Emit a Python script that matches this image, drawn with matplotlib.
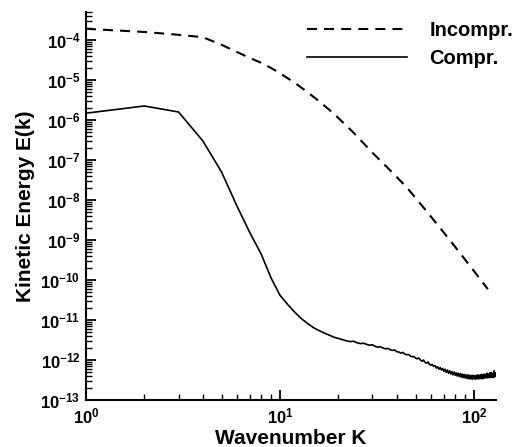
import numpy as np
import matplotlib
matplotlib.use('Agg')
import matplotlib.pyplot as plt
from matplotlib.ticker import LogLocator, FuncFormatter, NullFormatter

plt.rcParams['font.family'] = ['Liberation Sans', 'DejaVu Sans']
plt.rcParams['font.weight'] = 'bold'
plt.rcParams['mathtext.fontset'] = 'custom'
plt.rcParams['mathtext.rm'] = 'Liberation Sans:bold'
plt.rcParams['mathtext.it'] = 'Liberation Sans:bold'
plt.rcParams['mathtext.bf'] = 'Liberation Sans:bold'

# incompressible spectrum: wavenumber and log10 of E(k)
k_incomp = [1, 2, 3, 4, 5, 6, 7, 8, 9, 10, 12, 14, 16, 18, 20, 24, 30, 36, 45, 55, 67, 80, 98, 118]
log_e_incomp = [-3.72, -3.80, -3.87, -3.93, -4.12, -4.30, -4.45, -4.57, -4.70, -4.83,
                -5.08, -5.32, -5.54, -5.75, -5.95, -6.32, -6.82, -7.20, -7.68, -8.19,
                -8.70, -9.17, -9.72, -10.23]

# compressible spectrum: k = 1..130, log10 of E(k)
k_comp = list(range(1, 131))
log_e_comp = [
    -5.83, -5.65, -5.80, -6.52, -7.30, -8.15, -8.82, -9.35, -9.95, -10.38,
    -10.62, -10.82, -10.98, -11.10, -11.20, -11.27, -11.33, -11.38, -11.43, -11.46,
    -11.49, -11.52, -11.54, -11.53, -11.57, -11.59, -11.58, -11.61, -11.63, -11.62,
    -11.66, -11.68, -11.67, -11.70, -11.72, -11.71, -11.74, -11.76, -11.75, -11.79,
    -11.80, -11.83, -11.81, -11.85, -11.87, -11.86, -11.90, -11.92, -11.91, -11.95,
    -11.97, -11.95, -12.00, -12.03, -12.00, -12.06, -12.08, -12.05, -12.11, -12.13,
    -12.11, -12.16, -12.14, -12.20, -12.17, -12.23, -12.19, -12.25, -12.21, -12.28,
    -12.23, -12.31, -12.25, -12.33, -12.27, -12.35, -12.29, -12.37, -12.30, -12.38,
    -12.32, -12.40, -12.33, -12.41, -12.34, -12.43, -12.35, -12.44, -12.36, -12.45,
    -12.37, -12.46, -12.37, -12.47, -12.38, -12.47, -12.39, -12.48, -12.38, -12.47,
    -12.39, -12.48, -12.38, -12.47, -12.37, -12.47, -12.38, -12.46, -12.36, -12.47,
    -12.37, -12.46, -12.35, -12.45, -12.36, -12.44, -12.33, -12.45, -12.35, -12.43,
    -12.32, -12.44, -12.31, -12.43, -12.34, -12.44, -12.27, -12.42, -12.32, -12.40,
]

e_incomp = 10.0 ** np.array(log_e_incomp)
e_comp = 10.0 ** np.array(log_e_comp)

fig = plt.figure(figsize=(5.13, 4.47), dpi=100)
ax = fig.add_axes([0.1676, 0.1051, 0.7993, 0.8681])

ax.plot(k_incomp, e_incomp, color='black', lw=1.5, dashes=(4.8, 3.4), label='Incompr.')
ax.plot(k_comp, e_comp, color='black', lw=1.2, label='Compr.')

ax.set_xscale('log')
ax.set_yscale('log')
ax.set_xlim(1, 130)
ax.set_ylim(1e-13, 10 ** -3.3)

for s in ['top', 'right']:
    ax.spines[s].set_visible(False)
for s in ['left', 'bottom']:
    ax.spines[s].set_linewidth(1.5)

def fmt(v, pos):
    e = int(round(np.log10(v)))
    return r'$\mathbf{10^{%d}}$' % e

ax.xaxis.set_major_locator(LogLocator(base=10, numticks=10))
ax.yaxis.set_major_locator(LogLocator(base=10, numticks=20))
ax.xaxis.set_minor_locator(LogLocator(base=10, subs=np.arange(2, 10), numticks=20))
ax.yaxis.set_minor_locator(LogLocator(base=10, subs=np.arange(2, 10), numticks=30))
ax.xaxis.set_major_formatter(FuncFormatter(fmt))
ax.yaxis.set_major_formatter(FuncFormatter(fmt))
ax.xaxis.set_minor_formatter(NullFormatter())
ax.yaxis.set_minor_formatter(NullFormatter())
ax.tick_params(which='major', direction='in', length=7, width=1.3, labelsize=12)
ax.tick_params(which='minor', direction='in', length=4, width=1.0)
ax.tick_params(axis='x', pad=5)
ax.tick_params(axis='y', pad=4)

fig.text(0.567, 3.0 / 447, 'Wavenumber K', fontsize=15, fontweight='bold',
         ha='center', va='baseline')
ax.set_ylabel('Kinetic Energy E(k)', fontsize=15, fontweight='bold', labelpad=4)

leg = fig.legend(loc='upper right', bbox_to_anchor=(1.036, 0.994), frameon=False,
                 prop={'size': 14.5, 'weight': 'bold'}, handlelength=5.0,
                 handletextpad=1.1, labelspacing=0.45)

plt.savefig('out.png', dpi=100)
